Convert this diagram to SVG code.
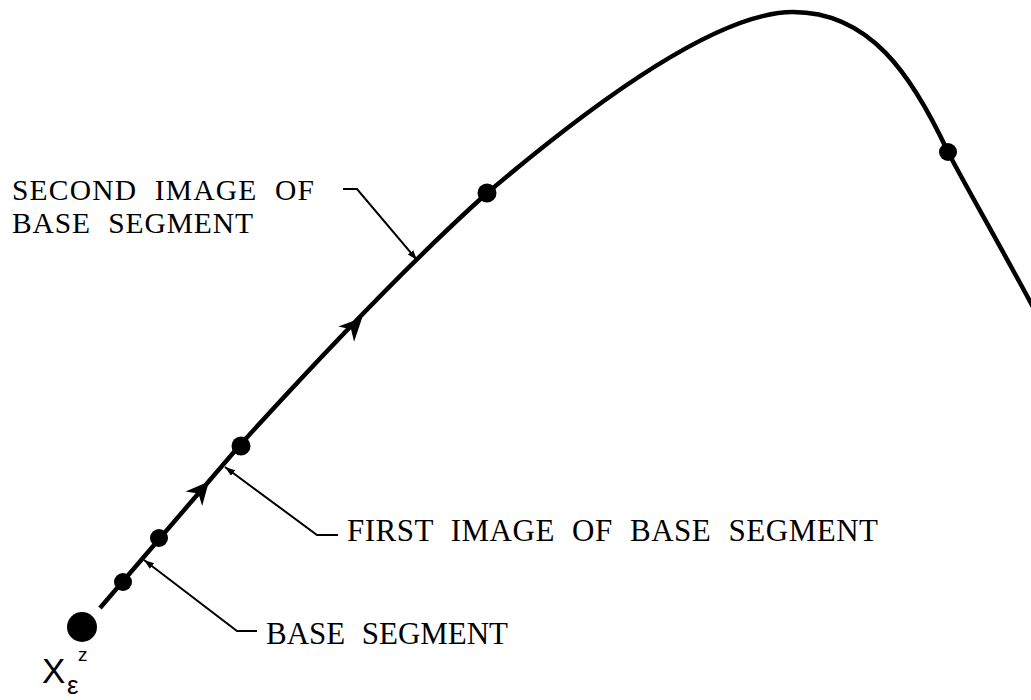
<svg xmlns="http://www.w3.org/2000/svg" width="1031" height="700" viewBox="0 0 1031 700">
<style>
  .curve { fill: none; stroke: #000; stroke-width: 4.5; stroke-linecap: butt; }
  .leader { fill: none; stroke: #000; stroke-width: 2; }
  .dot { fill: #000; }
  .lbl { font-family: "Liberation Serif", "Times New Roman", serif; font-size: 31px; word-spacing: 9px; fill: #000; }
  .lbl2 { font-family: "Liberation Serif", "Times New Roman", serif; font-size: 29.5px; word-spacing: 9px; fill: #000; }
  .sym { font-family: "Liberation Sans", Arial, sans-serif; fill: #000; }
</style>
<defs>
  <marker id="lead" markerUnits="userSpaceOnUse" markerWidth="11" markerHeight="8" refX="10" refY="3.5" orient="auto">
    <path d="M0,0 L10,3.5 L0,7 z" fill="#000"/>
  </marker>
  <path id="dart" d="M6,0 L-17,-11 L-10,0 L-17,11 z" fill="#000"/>
</defs>

<g id="connectors">
  <path id="trajectory" class="curve" d="M100,608 L240,445 C320,357 406,266 486,194 C600,97 720,12 793,12 C870,12 912,75 948,152 C965,185 1000,245 1040,320"/>
  <use href="#dart" transform="translate(358,322) rotate(-46)"/>
  <use href="#dart" transform="translate(205,486) rotate(-49)"/>
  <polyline class="leader" points="257,631 237,631 144,560" marker-end="url(#lead)"/>
  <polyline class="leader" points="338,535 317,535 225,467" marker-end="url(#lead)"/>
  <polyline class="leader" points="343,189 357,189 417,260" marker-end="url(#lead)"/>
</g>

<g id="start-point">
  <circle class="dot" cx="82" cy="627" r="15"/>
  <text class="sym" x="42" y="683" font-size="35">X</text>
  <text class="sym" x="67" y="694" font-size="26">ε</text>
  <text class="sym" x="78" y="661" font-size="19">z</text>
</g>

<g id="points">
  <circle class="dot" cx="123" cy="582" r="9"/>
  <circle class="dot" cx="159" cy="538" r="9"/>
  <circle class="dot" cx="241" cy="446" r="9.5"/>
  <circle class="dot" cx="487" cy="193" r="9.5"/>
  <circle class="dot" cx="948" cy="152" r="9"/>
</g>

<g id="label-base">
  <text class="lbl" x="266" y="644" textLength="242" lengthAdjust="spacing">BASE SEGMENT</text>
</g>
<g id="label-first">
  <text class="lbl" x="347" y="541" textLength="531" lengthAdjust="spacing">FIRST IMAGE OF BASE SEGMENT</text>
</g>
<g id="label-second">
  <text class="lbl2" x="12" y="200" textLength="302" lengthAdjust="spacing">SECOND IMAGE OF</text>
  <text class="lbl2" x="12" y="233" textLength="241" lengthAdjust="spacing">BASE SEGMENT</text>
</g>
</svg>
